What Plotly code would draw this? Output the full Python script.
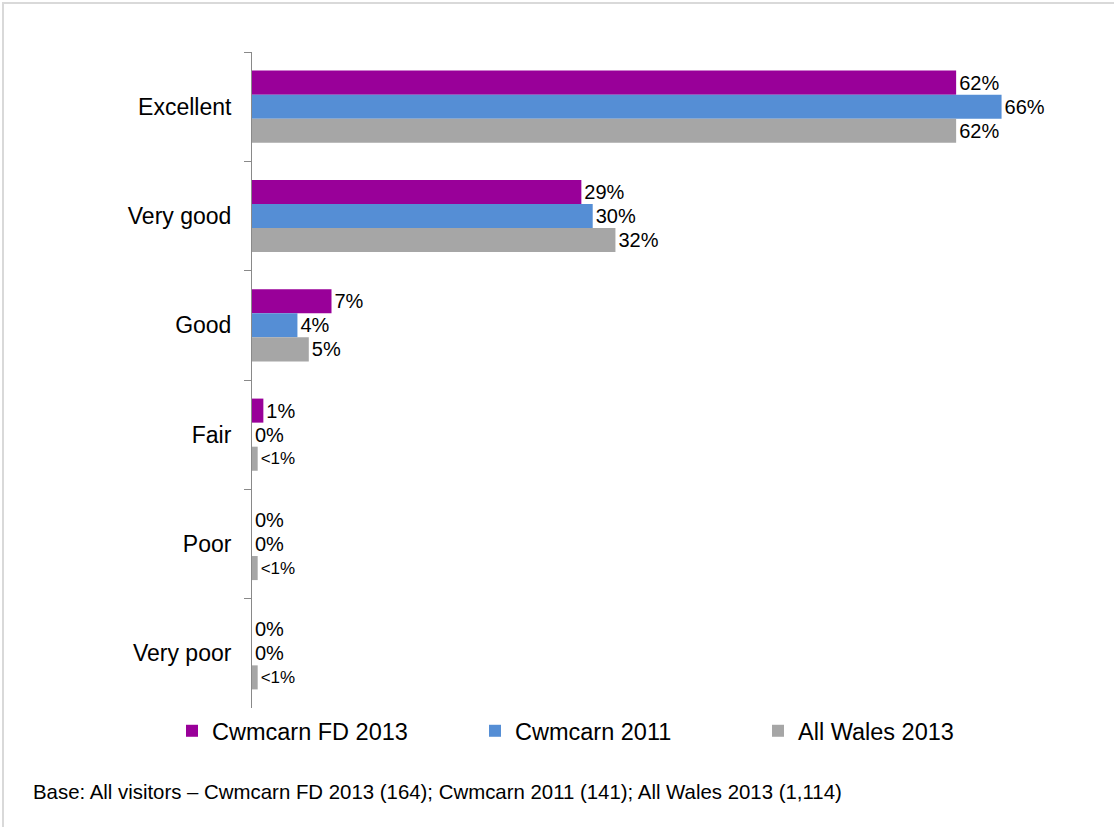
import plotly.graph_objects as go

# Survey ratings, top to bottom
categories = ["Excellent", "Very good", "Good", "Fair", "Poor", "Very poor"]

series_names = ["Cwmcarn FD 2013", "Cwmcarn 2011", "All Wales 2013"]
cwmcarn_fd_2013 = [62, 29, 7, 1, 0, 0]
cwmcarn_2011 = [66, 30, 4, 0, 0, 0]
all_wales_2013 = [62, 32, 5, 0.5, 0.5, 0.5]

cwmcarn_fd_2013_labels = ["62%", "29%", "7%", "1%", "0%", "0%"]
cwmcarn_2011_labels = ["66%", "30%", "4%", "0%", "0%", "0%"]
all_wales_2013_labels = ["62%", "32%", "5%", "<1%", "<1%", "<1%"]

colors = ["#990099", "#558ED5", "#A6A6A6"]
footnote = "Base: All visitors \u2013 Cwmcarn FD 2013 (164); Cwmcarn 2011 (141); All Wales 2013 (1,114)"

FONT = "Liberation Sans, Arial, sans-serif"

W, H = 1114, 827
L, R, T, B = 252, 67, 52, 119
pw, ph = W - L - R, H - T - B


def px_x(p):
    return (p - L) / pw


def px_y(p):
    return (H - B - p) / ph


values = [cwmcarn_fd_2013, cwmcarn_2011, all_wales_2013]
labels = [cwmcarn_fd_2013_labels, cwmcarn_2011_labels, all_wales_2013_labels]
legends = ["legend", "legend2", "legend3"]

fig = go.Figure()
for name, vals, labs, col, lg in zip(series_names, values, labels, colors, legends):
    fig.add_trace(go.Bar(
        y=categories, x=vals, orientation="h", name=name,
        marker=dict(color=col, line=dict(width=0)),
        text=labs, textposition="outside", cliponaxis=False,
        textfont=dict(family=FONT, color="#000000",
                      size=[17 if t.startswith("<") else 20 for t in labs]),
        legend=lg, hoverinfo="skip",
    ))

legend_x = [194, 497, 780]
leg_common = dict(orientation="h", yanchor="middle", xanchor="left",
                  font=dict(family=FONT, size=23.5, color="#000000"),
                  bgcolor="rgba(0,0,0,0)", itemwidth=30)
leg_cfg = {}
for lg, lx in zip(legends, legend_x):
    leg_cfg[lg] = dict(leg_common, x=px_x(lx - 22), y=px_y(731))

fig.update_layout(
    width=W, height=H,
    margin=dict(l=L, r=R, t=T, b=B, autoexpand=False),
    paper_bgcolor="#ffffff", plot_bgcolor="#ffffff",
    barmode="group", bargap=0.34, bargroupgap=0,
    showlegend=True,
    xaxis=dict(range=[0, 70], visible=False, fixedrange=True),
    yaxis=dict(
        type="category", autorange="reversed",
        showline=True, linecolor="#898989", linewidth=1,
        ticks="outside", ticklen=7, tickcolor="#898989", tickwidth=1,
        tickson="boundaries", showgrid=False, zeroline=False,
        tickfont=dict(family=FONT, size=23, color="#000000"),
        ticklabelstandoff=15,
    ),
    shapes=[dict(type="rect", xref="paper", yref="paper",
                 x0=px_x(3), x1=px_x(1200), y0=px_y(900), y1=px_y(3),
                 line=dict(color="#D9D9D9", width=2), fillcolor="rgba(0,0,0,0)",
                 layer="below")],
    annotations=[dict(text=footnote, xref="paper", yref="paper",
                      x=px_x(31), y=px_y(792), xanchor="left", yanchor="middle",
                      showarrow=False,
                      font=dict(family=FONT, size=20.4, color="#000000"))],
    **leg_cfg,
)

fig.write_html("out.html")
